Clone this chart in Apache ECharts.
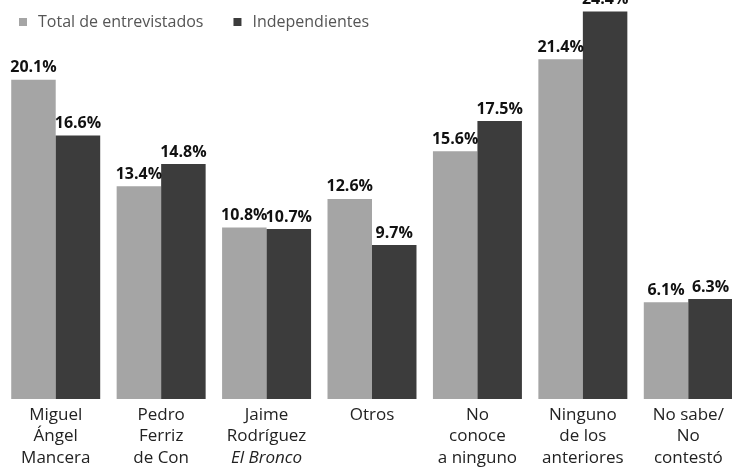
<!DOCTYPE html>
<html>
<head>
<meta charset="utf-8">
<script src="https://cdn.jsdelivr.net/npm/echarts@6/dist/echarts.min.js"></script>
<style>
html,body{margin:0;padding:0;background:#fff;}
#c{width:732px;height:470px;}
</style>
</head>
<body>
<div id="c"></div>
<script>
var categories = [
  'Miguel\nÁngel\nMancera',
  'Pedro\nFerriz\nde Con',
  'Jaime\nRodríguez\n{i|El Bronco}',
  'Otros',
  'No\nconoce\na ninguno',
  'Ninguno\nde los\nanteriores',
  'No sabe/\nNo\ncontestó'
];
var seriesNames = ['Total de entrevistados', 'Independientes'];
var totalValues = [20.1, 13.4, 10.8, 12.6, 15.6, 21.4, 6.1];
var indepValues = [16.6, 14.8, 10.7, 9.7, 17.5, 24.4, 6.3];

var chart = echarts.init(document.getElementById('c'), null, {renderer: 'canvas'});
var labelStyle = {
  show: true,
  position: 'top',
  distance: 4,
  fontFamily: 'Open Sans',
  fontWeight: 'bold',
  fontSize: 16,
  color: '#111',
  formatter: function (p) { return p.value.toFixed(1) + '%'; }
};
chart.setOption({
  animation: false,
  backgroundColor: '#fff',
  legend: {
    left: 14,
    top: 9,
    icon: 'rect',
    itemWidth: 8,
    itemHeight: 8,
    itemGap: 30,
    textStyle: {fontFamily: 'Open Sans', fontSize: 16, color: '#555', padding: [0, 0, 0, 6]},
    data: seriesNames
  },
  grid: {left: 3, width: 738, top: 2, bottom: 71, containLabel: false, outerBoundsMode: 'none'},
  xAxis: {
    type: 'category',
    data: categories,
    axisLine: {show: false},
    axisTick: {show: false},
    axisLabel: {
      interval: 0,
      margin: 5,
      fontFamily: 'Open Sans',
      fontSize: 17,
      lineHeight: 21.5,
      color: '#222',
      rich: {
        i: {fontFamily: 'Open Sans', fontStyle: 'italic', fontSize: 17, lineHeight: 21.5, color: '#222'}
      }
    }
  },
  yAxis: {
    type: 'value',
    min: 0,
    max: 25,
    show: false,
    splitLine: {show: false}
  },
  series: [
    {
      name: seriesNames[0],
      type: 'bar',
      data: totalValues,
      barGap: '0%',
      barCategoryGap: '15.6%',
      itemStyle: {color: '#a5a5a5'},
      label: labelStyle
    },
    {
      name: seriesNames[1],
      type: 'bar',
      data: indepValues,
      barGap: '0%',
      barCategoryGap: '15.6%',
      itemStyle: {color: '#3c3c3c'},
      label: labelStyle
    }
  ]
});
</script>
</body>
</html>
